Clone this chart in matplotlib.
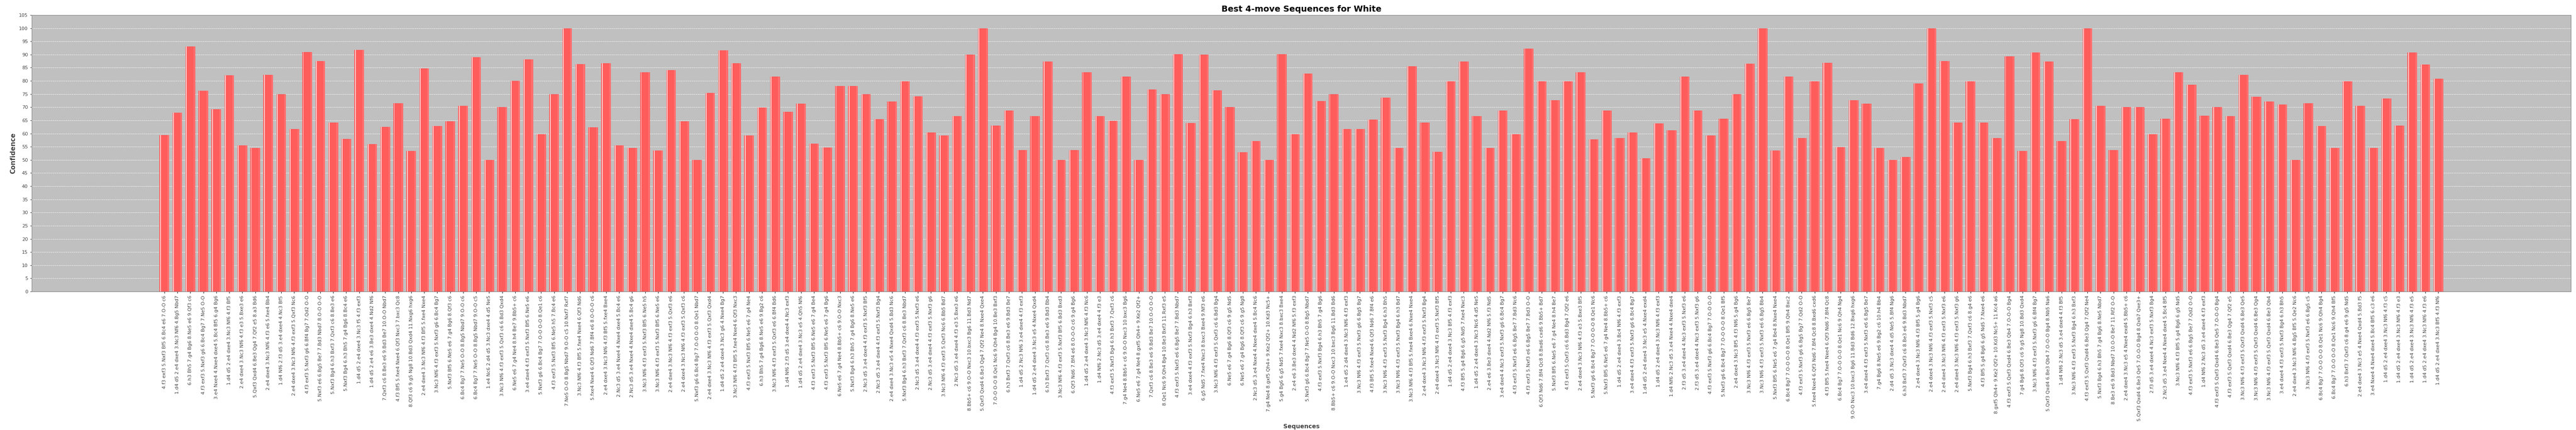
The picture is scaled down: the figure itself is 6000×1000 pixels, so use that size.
import matplotlib
matplotlib.use("Agg")
import matplotlib.pyplot as plt
import numpy as np

sequences = [
"4.f3 exf3 5.Nxf3 Bf5 6.Bc4 e6 7.O-O c6",
"1.d4 d5 2.e4 dxe4 3.Nc3 Nf6 4.Bg5 Nbd7",
"6.h3 Bh5 7.g4 Bg6 8.Ne5 e6 9.Qf3 c6",
"4.f3 exf3 5.Nxf3 g6 6.Bc4 Bg7 7.Ne5 O-O",
"3.e4 Nxe4 4.Nxe4 dxe4 5.Bc4 Bf5 6.g4 Bg6",
"1.d4 d5 2.e4 dxe4 3.Nc3 Nf6 4.f3 Bf5",
"2.e4 dxe4 3.Nc3 Nf6 4.f3 e3 5.Bxe3 e6",
"5.Qxf3 Qxd4 6.Be3 Qg4 7.Qf2 e5 8.a3 Bd6",
"2.e4 dxe4 3.Nc3 Nf6 4.f3 e6 5.fxe4 Bb4",
"1.d4 Nf6 2.f3 d5 3.e4 dxe4 4.Nc3 Bf5",
"2.e4 dxe4 3.Nc3 Nf6 4.f3 exf3 5.Qxf3 Nc6",
"4.f3 exf3 5.Nxf3 g6 6.Bf4 Bg7 7.Qd2 O-O",
"5.Nxf3 e6 6.Bg5 Be7 7.Bd3 Nbd7 8.O-O O-O",
"5.Nxf3 Bg4 6.h3 Bxf3 7.Qxf3 c6 8.Be3 e6",
"5.Nxf3 Bg4 6.h3 Bh5 7.g4 Bg6 8.Bc4 e6",
"1.d4 d5 2.e4 dxe4 3.Nc3 f5 4.f3 exf3",
"1.d4 d5 2.e4 e6 3.Be3 dxe4 4.Nd2 Nf6",
"7.Qxf3 c6 8.Be3 e6 9.Bd3 Be7 10.O-O Nbd7",
"4.f3 Bf5 5.fxe4 Nxe4 6.Qf3 Nxc3 7.bxc3 Qc8",
"8.Qf3 c6 9.g5 Ng8 10.Bd3 Qxd4 11.Nxg6 hxg6",
"2.e4 dxe4 3.Nc3 Nf6 4.f3 Bf5 5.fxe4 Nxe4",
"3.Nc3 Nf6 4.f3 exf3 5.Nxf3 g6 6.Bc4 Bg7",
"5.Nxf3 Bf5 6.Ne5 e6 7.g4 Bg6 8.Qf3 c6",
"6.Bc4 Bg7 7.Ne5 O-O 8.Bg5 Nbd7 9.O-O c6",
"6.Bc4 Bg7 7.Ne5 O-O 8.Bg5 Nbd7 9.O-O c5",
"1.e4 Nc6 2.d4 d5 3.Nc3 dxe4 4.d5 Ne5",
"3.Nc3 Nf6 4.f3 exf3 5.Qxf3 c6 6.Bd3 Qxd4",
"6.Ne5 e6 7.g4 Ne4 8.h4 Be7 9.Bb5+ c6",
"3.e4 dxe4 4.f3 exf3 5.Nxf3 Bf5 6.Ne5 e6",
"5.Nxf3 g6 6.Bc4 Bg7 7.O-O O-O 8.Qe1 c6",
"4.f3 exf3 5.Nxf3 Bf5 6.Ne5 h5 7.Bc4 e6",
"7.Ne5 O-O 8.Bg5 Nbd7 9.O-O c5 10.Nxf7 Rxf7",
"3.Nc3 Nf6 4.f3 Bf5 5.fxe4 Nxe4 6.Qf3 Nd6",
"5.fxe4 Nxe4 6.Qf3 Nd6 7.Bf4 e6 8.O-O-O c6",
"2.e4 dxe4 3.Nc3 Nf6 4.f3 Bf5 5.fxe4 Bxe4",
"2.Nc3 d5 3.e4 Nxe4 4.Nxe4 dxe4 5.Bc4 e6",
"2.Nc3 d5 3.e4 Nxe4 4.Nxe4 dxe4 5.Bc4 g6",
"3.Nc3 Nf6 4.f3 exf3 5.Nxf3 Bf5 6.Ne5 h5",
"3.Nc3 Nf6 4.f3 exf3 5.Nxf3 Bf5 6.Ne5 e6",
"2.e4 dxe4 3.Nc3 Nf6 4.f3 exf3 5.Qxf3 e6",
"2.e4 dxe4 3.Nc3 Nf6 4.f3 exf3 5.Qxf3 c6",
"5.Nxf3 g6 6.Bc4 Bg7 7.O-O O-O 8.Qe1 Nbd7",
"2.e4 dxe4 3.Nc3 Nf6 4.f3 exf3 5.Qxf3 Qxd4",
"1.d4 d5 2.e4 dxe4 3.Nc3 g6 4.Nxe4 Bg7",
"3.Nc3 Nf6 4.f3 Bf5 5.fxe4 Nxe4 6.Qf3 Nxc3",
"4.f3 exf3 5.Nxf3 Bf5 6.Ne5 e6 7.g4 Ne4",
"6.h3 Bh5 7.g4 Bg6 8.Ne5 e6 9.Bg2 c6",
"3.Nc3 Nf6 4.f3 exf3 5.Qxf3 e6 6.Bf4 Bd6",
"1.d4 Nf6 2.f3 d5 3.e4 dxe4 4.Nc3 exf3",
"1.d4 d5 2.e4 dxe4 3.Nc3 e5 4.Qh5 Nf6",
"4.f3 exf3 5.Nxf3 Bf5 6.Ne5 e6 7.g4 Be4",
"4.f3 exf3 5.Nxf3 Bf5 6.Ne5 e6 7.g4 Bg6",
"6.Ne5 e6 7.g4 Ne4 8.Bb5+ c6 9.O-O Nxc3",
"5.Nxf3 Bg4 6.h3 Bh5 7.g4 Bg6 8.Ne5 e6",
"2.Nc3 d5 3.e4 dxe4 4.f3 exf3 5.Nxf3 Bf5",
"2.Nc3 d5 3.e4 dxe4 4.f3 exf3 5.Nxf3 Bg4",
"2.e4 dxe4 3.Nc3 e5 4.Nxe4 Qxd4 5.Bd3 Nc6",
"5.Nxf3 Bg4 6.h3 Bxf3 7.Qxf3 c6 8.Be3 Nbd7",
"2.Nc3 d5 3.e4 dxe4 4.f3 exf3 5.Nxf3 e6",
"2.Nc3 d5 3.e4 dxe4 4.f3 exf3 5.Nxf3 g6",
"3.Nc3 Nf6 4.f3 exf3 5.Qxf3 Nc6 6.Bb5 Bd7",
"2.Nc3 d5 3.e4 dxe4 4.f3 e3 5.Bxe3 e6",
"8.Bb5+ c6 9.O-O Nxc3 10.bxc3 Bg6 11.Bd3 Nd7",
"5.Qxf3 Qxd4 6.Be3 Qg4 7.Qf2 Ne4 8.Nxe4 Qxe4",
"7.O-O O-O 8.Qe1 Nc6 9.Qh4 Bg4 10.Be3 Bxf3",
"6.h3 Bxf3 7.Qxf3 c6 8.Be3 e6 9.Bd3 Be7",
"1.d4 d5 2.Nc3 Nf6 3.e4 dxe4 4.f3 exf3",
"1.d4 d5 2.e4 dxe4 3.Nc3 e5 4.Nxe4 Qxd4",
"6.h3 Bxf3 7.Qxf3 c6 8.Be3 e6 9.Bd3 Bb4",
"3.Nc3 Nf6 4.f3 exf3 5.Nxf3 Bf5 6.Bd3 Bxd3",
"6.Qf3 Nd6 7.Bf4 e6 8.O-O-O c6 9.g4 Bg6",
"1.d4 d5 2.e4 dxe4 3.Nc3 Nf6 4.f3 Nc6",
"1.d4 Nf6 2.Nc3 d5 3.e4 dxe4 4.f3 e3",
"4.f3 exf3 5.Nxf3 Bg4 6.h3 Bxf3 7.Qxf3 c6",
"7.g4 Ne4 8.Bb5+ c6 9.O-O Nxc3 10.bxc3 Bg6",
"6.Ne5 e6 7.g4 Ne4 8.gxf5 Qh4+ 9.Ke2 Qf2+",
"7.Qxf3 c6 8.Be3 e6 9.Bd3 Be7 10.O-O O-O",
"8.Qe1 Nc6 9.Qh4 Bg4 10.Be3 Bxf3 11.Rxf3 e5",
"4.f3 exf3 5.Nxf3 e6 6.Bg5 Be7 7.Bd3 Nbd7",
"3.e4 dxe4 4.f3 exf3 5.Nxf3 Bg4 6.h3 Bxf3",
"6.g5 Nd5 7.fxe4 Nxc3 8.bxc3 Bxe4 9.Nf3 e6",
"3.Nc3 Nf6 4.f3 exf3 5.Qxf3 c6 6.Bd3 Bg4",
"6.Ne5 e6 7.g4 Bg6 8.Qf3 c6 9.g5 Nd5",
"6.Ne5 e6 7.g4 Bg6 8.Qf3 c6 9.g5 Ng8",
"2.Nc3 d5 3.e4 Nxe4 4.Nxe4 dxe4 5.Bc4 Nc6",
"7.g4 Ne4 8.gxf5 Qh4+ 9.Ke2 Qf2+ 10.Kd3 Nc5+",
"5.g4 Bg6 6.g5 Nd5 7.fxe4 Nxc3 8.bxc3 Bxe4",
"2.e4 e6 3.Be3 dxe4 4.Nd2 Nf6 5.f3 exf3",
"5.Nxf3 g6 6.Bc4 Bg7 7.Ne5 O-O 8.Bg5 Nbd7",
"4.f3 exf3 5.Nxf3 Bg4 6.h3 Bh5 7.g4 Bg6",
"8.Bb5+ c6 9.O-O Nxc3 10.bxc3 Bg6 11.Bd3 Bd6",
"1.e4 d5 2.d4 dxe4 3.Nc3 Nf6 4.f3 exf3",
"3.Nc3 Nf6 4.f3 exf3 5.Nxf3 g6 6.Bg5 Bg7",
"4.f3 Bf5 5.fxe4 Nxe4 6.Qf3 Nd6 7.Bf4 e6",
"3.Nc3 Nf6 4.f3 exf3 5.Nxf3 Bg4 6.h3 Bh5",
"3.Nc3 Nf6 4.f3 exf3 5.Nxf3 Bg4 6.h3 Bd7",
"3.Nc3 Nf6 4.f3 Bf5 5.fxe4 Bxe4 6.Nxe4 Nxe4",
"2.e4 dxe4 3.Nc3 Nf6 4.f3 exf3 5.Nxf3 Bg4",
"2.e4 dxe4 3.Nc3 Nf6 4.f3 exf3 5.Nxf3 Bf5",
"1.d4 d5 2.e4 dxe4 3.Nc3 Bf5 4.f3 exf3",
"4.f3 Bf5 5.g4 Bg6 6.g5 Nd5 7.fxe4 Nxc3",
"1.d4 d5 2.e4 dxe4 3.Nc3 Nc6 4.d5 Ne5",
"2.e4 e6 3.Be3 dxe4 4.Nd2 Nf6 5.f3 Nd5",
"3.e4 dxe4 4.Nc3 exf3 5.Nxf3 g6 6.Bc4 Bg7",
"4.f3 exf3 5.Nxf3 e6 6.Bg5 Be7 7.Bd3 Nc6",
"4.f3 exf3 5.Nxf3 e6 6.Bg5 Be7 7.Bd3 O-O",
"6.Qf3 Nd6 7.Bf4 Qc8 8.Bxd6 cxd6 9.Bb5+ Bd7",
"5.Nxf3 Bf5 6.Ne5 e6 7.g4 Ne4 8.h4 Be7",
"4.f3 exf3 5.Qxf3 c6 6.Bd3 Bg4 7.Qf2 e6",
"2.e4 dxe4 3.Nc3 Nf6 4.f3 e3 5.Bxe3 Bf5",
"5.Nxf3 g6 6.Bc4 Bg7 7.O-O O-O 8.Qe1 Nc6",
"5.Nxf3 Bf5 6.Ne5 e6 7.g4 Ne4 8.Bb5+ c6",
"1.d4 d5 2.e4 dxe4 3.Bc4 Nf6 4.f3 exf3",
"3.e4 dxe4 4.f3 exf3 5.Nxf3 g6 6.Bc4 Bg7",
"1.d4 d5 2.e4 dxe4 3.Nc3 e5 4.Nxe4 exd4",
"1.d4 d5 2.e4 dxe4 3.Nc3 Nf6 4.f3 exf3",
"1.d4 Nf6 2.Nc3 d5 3.e4 Nxe4 4.Nxe4 dxe4",
"2.f3 d5 3.e4 dxe4 4.Nc3 exf3 5.Nxf3 e6",
"2.f3 d5 3.e4 dxe4 4.Nc3 exf3 5.Nxf3 g6",
"4.f3 exf3 5.Nxf3 g6 6.Bc4 Bg7 7.O-O O-O",
"5.Nxf3 g6 6.Bc4 Bg7 7.O-O O-O 8.Qe1 Bf5",
"2.e4 dxe4 3.Nc3 Bf5 4.f3 Nf6 5.g4 Bg6",
"3.Nc3 Nf6 4.f3 exf3 5.Nxf3 e6 6.Bg5 Be7",
"3.Nc3 Nf6 4.f3 exf3 5.Nxf3 e6 6.Bg5 Bb4",
"5.Nxf3 Bf5 6.Ne5 e6 7.g4 Be4 8.Nxe4 Nxe4",
"6.Bc4 Bg7 7.O-O O-O 8.Qe1 Bf5 9.Qh4 Bxc2",
"4.f3 exf3 5.Nxf3 g6 6.Bg5 Bg7 7.Qd2 O-O",
"5.fxe4 Nxe4 6.Qf3 Nd6 7.Bf4 Qc8 8.Bxd6 cxd6",
"4.f3 Bf5 5.fxe4 Nxe4 6.Qf3 Nd6 7.Bf4 Qc8",
"6.Bc4 Bg7 7.O-O O-O 8.Qe1 Nc6 9.Qh4 Ng4",
"9.O-O Nxc3 10.bxc3 Bg6 11.Bd3 Bd6 12.Bxg6 hxg6",
"3.e4 dxe4 4.f3 exf3 5.Nxf3 e6 6.Bg5 Be7",
"7.g4 Bg6 8.Ne5 e6 9.Bg2 c6 10.h4 Bb4",
"2.d4 d5 3.Nc3 dxe4 4.d5 Ne5 5.Bf4 Ng6",
"6.h3 Bxf3 7.Qxf3 c6 8.Be3 e6 9.Bd3 Nbd7",
"2.e4 dxe4 3.Nc3 Nf6 4.f3 Bf5 5.g4 Bg6",
"2.e4 dxe4 3.Nc3 Nf6 4.f3 exf3 5.Nxf3 c5",
"2.e4 dxe4 3.Nc3 Nf6 4.f3 exf3 5.Nxf3 e6",
"2.e4 dxe4 3.Nc3 Nf6 4.f3 exf3 5.Nxf3 g6",
"5.Nxf3 Bg4 6.h3 Bxf3 7.Qxf3 c6 8.g4 e6",
"4.f3 Bf5 5.g4 Bg6 6.g5 Nd5 7.Nxe4 e6",
"8.gxf5 Qh4+ 9.Ke2 Qf2+ 10.Kd3 Nc5+ 11.Kc4 a6",
"4.f3 exf3 5.Qxf3 Qxd4 6.Be3 Qb4 7.O-O-O Bg4",
"7.g4 Bg6 8.Qf3 c6 9.g5 Ng8 10.Bd3 Qxd4",
"3.Nc3 Nf6 4.f3 exf3 5.Nxf3 g6 6.Bf4 Bg7",
"5.Qxf3 Qxd4 6.Be3 Qb4 7.O-O-O Bg4 8.Nb5 Na6",
"1.d4 Nf6 2.Nc3 d5 3.e4 dxe4 4.f3 Bf5",
"3.Nc3 Nf6 4.f3 exf3 5.Nxf3 Bg4 6.h3 Bxf3",
"4.f3 exf3 5.Qxf3 Qxd4 6.Be3 Qg4 7.Qf2 Ne4",
"5.Nxf3 Bg4 6.h3 Bh5 7.g4 Bg6 8.Ne5 Nbd7",
"8.Be3 e6 9.Bd3 Nbd7 10.O-O Be7 11.Rf2 O-O",
"2.e4 dxe4 3.Nc3 e5 4.Nxe4 exd4 5.Bb5+ c6",
"5.Qxf3 Qxd4 6.Be3 Qe5 7.O-O-O Bg4 8.Qxb7 Qxe3+",
"2.f3 d5 3.e4 dxe4 4.Nc3 exf3 5.Nxf3 Bg4",
"2.Nc3 d5 3.e4 Nxe4 4.Nxe4 dxe4 5.Bc4 Bf5",
"3.Nc3 Nf6 4.f3 Bf5 5.g4 Bg6 6.g5 Nd5",
"4.f3 exf3 5.Nxf3 e6 6.Bg5 Be7 7.Qd2 O-O",
"1.d4 Nf6 2.Nc3 d5 3.e4 dxe4 4.f3 exf3",
"4.f3 exf3 5.Qxf3 Qxd4 6.Be3 Qe5 7.O-O-O Bg4",
"4.f3 exf3 5.Qxf3 Qxd4 6.Be3 Qg4 7.Qf2 e5",
"3.Nc3 Nf6 4.f3 exf3 5.Qxf3 Qxd4 6.Be3 Qe5",
"3.Nc3 Nf6 4.f3 exf3 5.Qxf3 Qxd4 6.Be3 Qg4",
"3.Nc3 Nf6 4.f3 exf3 5.Qxf3 Qxd4 6.Be3 Qb4",
"3.e4 dxe4 4.f3 exf3 5.Nxf3 Bg4 6.h3 Bh5",
"2.e4 dxe4 3.Nc3 Nf6 4.Bg5 Bf5 5.Qe2 Nc6",
"3.Nc3 Nf6 4.f3 exf3 5.Nxf3 e6 6.Bg5 c5",
"6.Bc4 Bg7 7.O-O O-O 8.Qe1 Nc6 9.Qh4 Bg4",
"6.Bc4 Bg7 7.O-O O-O 8.Qe1 Nc6 9.Qh4 Bf5",
"6.h3 Bxf3 7.Qxf3 c6 8.g4 e6 9.g5 Nd5",
"2.e4 dxe4 3.Nc3 e5 4.Nxe4 Qxd4 5.Bd3 f5",
"3.e4 Nxe4 4.Nxe4 dxe4 5.Bc4 Bf5 6.c3 e6",
"1.d4 d5 2.e4 dxe4 3.Nc3 Nf6 4.f3 c5",
"1.d4 d5 2.e4 dxe4 3.Nc3 Nf6 4.f3 e3",
"1.d4 d5 2.e4 dxe4 3.Nc3 Nf6 4.f3 e5",
"1.d4 d5 2.e4 dxe4 3.Nc3 Nf6 4.f3 e6",
"1.d4 d5 2.e4 dxe4 3.Nc3 Bf5 4.f3 Nf6",
]

confidence = [
59.5, 68.0, 93.0, 76.2, 69.3, 82.2, 55.6, 54.6, 82.3, 75.0,
61.8, 91.0, 87.5, 64.2, 58.0, 91.7, 56.0, 62.5, 71.5, 53.4,
84.8, 62.8, 64.7, 70.6, 89.0, 50.0, 70.1, 80.0, 88.2, 59.8,
74.9, 100.0, 86.4, 62.4, 86.7, 55.6, 54.5, 83.2, 53.5, 84.1,
64.6, 49.9, 75.5, 91.6, 86.7, 59.2, 69.9, 81.7, 68.2, 71.4,
56.2, 54.7, 78.1, 78.1, 74.9, 65.5, 72.1, 79.8, 74.1, 60.4,
59.2, 66.6, 89.9, 100.0, 63.0, 68.7, 53.8, 66.6, 87.4, 49.9,
53.8, 83.2, 66.6, 64.8, 81.7, 49.9, 76.8, 74.9, 90.1, 64.0,
89.9, 76.4, 70.0, 52.9, 57.1, 49.9, 90.2, 59.8, 82.8, 72.4,
74.9, 61.8, 61.8, 65.3, 73.7, 54.5, 85.6, 64.1, 53.1, 79.9,
87.4, 66.6, 54.5, 68.7, 59.8, 92.2, 79.9, 72.6, 79.9, 83.2,
57.8, 68.7, 58.3, 60.4, 50.6, 63.8, 61.3, 81.7, 68.7, 59.2,
65.6, 74.9, 86.5, 100.0, 53.5, 81.7, 58.3, 79.9, 86.9, 54.8,
72.6, 71.4, 54.5, 49.9, 51.1, 79.1, 100.0, 87.6, 64.2, 79.9,
64.2, 58.3, 89.3, 53.4, 90.8, 87.4, 57.1, 65.5, 100.0, 70.6,
53.8, 70.0, 70.0, 59.8, 65.6, 83.2, 78.5, 66.8, 70.0, 66.6,
82.3, 73.9, 72.1, 71.0, 49.9, 71.5, 62.9, 54.5, 79.9, 70.6,
54.5, 73.3, 63.0, 90.8, 86.3, 80.9,
]

title = "Best 4-move Sequences for White"
x_label = "Sequences"
y_label = "Confidence"
y_ticks = list(range(0, 110, 5))

n = len(confidence)
x = np.arange(n)

fig = plt.figure(figsize=(60, 10), dpi=100)
ax = fig.add_axes([74/6000, 1 - 678/1000, (5988-74)/6000, (678-35)/1000])
ax.set_facecolor("#C0C0C0")
ax.bar(x, confidence, width=0.75, color="#FF5C5C", edgecolor="#FF5C5C", linewidth=0, zorder=2)
ax.bar(x - 0.3, confidence, width=0.06, color="#FFD0D0", linewidth=0, zorder=3)
ax.bar(x + 0.3, confidence, width=0.12, color="#FF7070", linewidth=0, zorder=3)

ax.set_xlim(-10.2, n - 1 + 10.2)
ax.set_ylim(0, 105)
ax.set_yticks(y_ticks)
ax.tick_params(axis="y", labelsize=8, colors="#444444", length=3)
ax.set_xticks(x)
ax.set_xticklabels(sequences, rotation=90, fontsize=8, color="#444444")
ax.tick_params(axis="x", length=3)
ax.yaxis.grid(True, color="white", linestyle="--", linewidth=0.6, zorder=1)
ax.set_axisbelow(True)
for s in ax.spines.values():
    s.set_color("#808080")
    s.set_linewidth(0.8)

ax.set_title(title, fontsize=14, fontweight="bold", pad=6)
ax.set_xlabel(x_label, fontsize=10, fontweight="bold", color="#444444")
ax.set_ylabel(y_label, fontsize=11, fontweight="bold", color="#444444")

fig.savefig("out.png", dpi=100)
